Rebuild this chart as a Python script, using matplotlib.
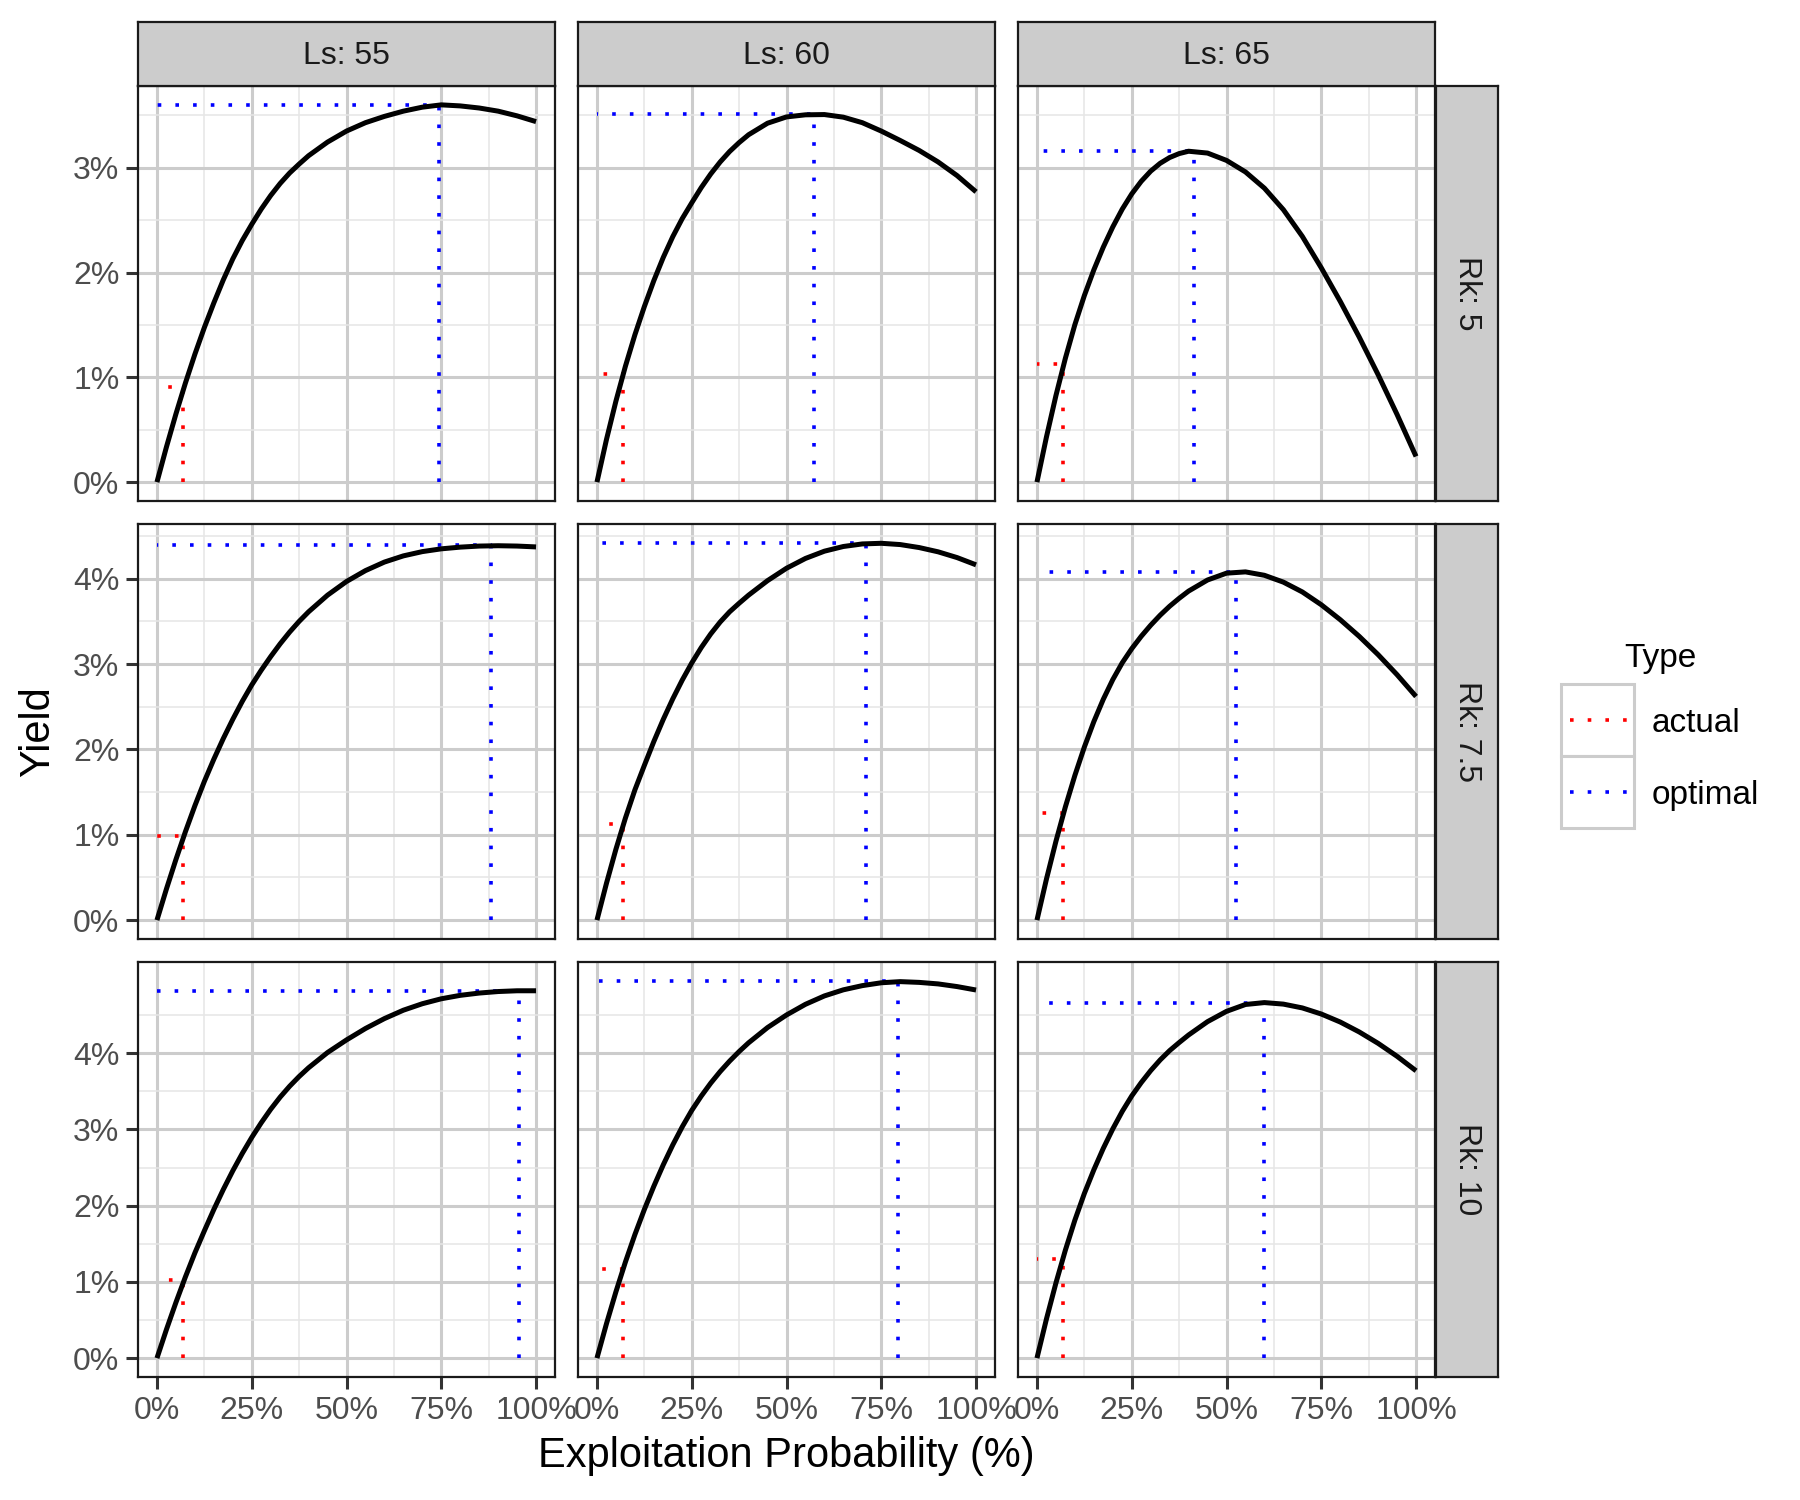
import matplotlib.pyplot as plt
from matplotlib.ticker import PercentFormatter
from matplotlib.patches import Rectangle
from matplotlib.lines import Line2D

plt.rcParams['font.family'] = ['Liberation Sans', 'DejaVu Sans']

# Facet levels
ls_values = ['55', '60', '65']
rk_values = ['5', '7.5', '10']

# Exploitation probability (%) where each curve was read
prob = [0, 2.5, 5, 7.5, 10, 12.5, 15, 17.5, 20, 22.5, 25, 27.5, 30, 32.5, 35, 37.5,
        40, 45, 50, 55, 60, 65, 70, 75, 80, 85, 90, 95, 100]

# Yield (%) per panel, rows Rk 5 / 7.5 / 10, columns Ls 55 / 60 / 65
r5_l55 = [0, .335, .65, .945, 1.22, 1.475, 1.71, 1.93, 2.13, 2.305, 2.46, 2.605, 2.735, 2.85, 2.95, 3.035,
          3.115, 3.245, 3.35, 3.43, 3.49, 3.54, 3.578, 3.60, 3.59, 3.57, 3.54, 3.495, 3.44]
r5_l60 = [0, .405, .7725, 1.105, 1.405, 1.675, 1.9225, 2.145, 2.3425, 2.515, 2.665, 2.81, 2.94, 3.055, 3.155, 3.24,
          3.315, 3.425, 3.485, 3.505, 3.5075, 3.4825, 3.43, 3.35, 3.26, 3.165, 3.055, 2.925, 2.77]
r5_l65 = [0, .43, .825, 1.1825, 1.5025, 1.78, 2.025, 2.2425, 2.435, 2.605, 2.75, 2.87, 2.9675, 3.0425, 3.0975, 3.135,
          3.1575, 3.14, 3.07, 2.96, 2.805, 2.60, 2.345, 2.045, 1.725, 1.385, 1.025, .645, .245]
r75_l55 = [0, .365, .71, 1.035, 1.34, 1.625, 1.885, 2.1275, 2.3525, 2.5625, 2.755, 2.9275, 3.0875, 3.2375, 3.375, 3.5,
           3.6125, 3.8075, 3.9675, 4.095, 4.195, 4.2675, 4.3175, 4.35, 4.37, 4.3825, 4.3865, 4.3825, 4.3725]
r75_l60 = [0, .43, .83, 1.195, 1.525, 1.8125, 2.0925, 2.3525, 2.5925, 2.8125, 3.0125, 3.1925, 3.3525, 3.4925, 3.6125, 3.7125,
           3.8075, 3.9775, 4.1225, 4.2375, 4.3225, 4.3775, 4.4075, 4.415, 4.40, 4.365, 4.315, 4.2475, 4.1625]
r75_l65 = [0, .48, .9225, 1.3275, 1.695, 2.0275, 2.325, 2.5875, 2.8175, 3.015, 3.18, 3.325, 3.455, 3.5725, 3.6775, 3.77,
           3.855, 3.985, 4.065, 4.08, 4.04, 3.96, 3.845, 3.695, 3.52, 3.325, 3.11, 2.875, 2.62]
r10_l55 = [0, .375, .73, 1.065, 1.38, 1.67, 1.95, 2.2125, 2.4575, 2.685, 2.895, 3.0875, 3.265, 3.425, 3.5675, 3.695,
           3.81, 4.01, 4.175, 4.325, 4.455, 4.565, 4.65, 4.715, 4.76, 4.79, 4.81, 4.82, 4.82]
r10_l60 = [0, .45, .87, 1.26, 1.62, 1.95, 2.255, 2.5375, 2.7975, 3.035, 3.25, 3.4375, 3.6075, 3.76, 3.8975, 4.0225,
           4.1375, 4.3375, 4.5025, 4.6425, 4.7525, 4.8325, 4.8875, 4.925, 4.94, 4.93, 4.91, 4.875, 4.83]
r10_l65 = [0, .5125, .985, 1.4175, 1.81, 2.16, 2.47, 2.7525, 3.0075, 3.2375, 3.44, 3.615, 3.7725, 3.9125, 4.035, 4.14,
           4.24, 4.415, 4.55, 4.64, 4.665, 4.645, 4.595, 4.515, 4.41, 4.28, 4.13, 3.96, 3.77]

# Actual and optimal points (rows = Rk, columns = Ls)
actual_x = [[7, 7, 7], [7, 7, 7], [7, 7, 7]]
actual_y = [[0.91, 1.03, 1.13], [0.99, 1.13, 1.25], [1.02, 1.17, 1.30]]
optimal_x = [[74.3, 57.2, 41.3], [88.1, 70.9, 52.4], [95.5, 79.5, 59.9]]
optimal_y = [[3.60, 3.51, 3.16], [4.39, 4.42, 4.08], [4.82, 4.95, 4.66]]

curves = [[r5_l55, r5_l60, r5_l65],
          [r75_l55, r75_l60, r75_l65],
          [r10_l55, r10_l60, r10_l65]]

# Layout in pixels (figure is 1800 x 1500 at 200 dpi)
W, H = 1800, 1500
col_left = [138, 578, 1018]
row_top = [86, 524, 962]
pw, ph = 417, 415
strip_h, strip_w = 64, 62

dot_lw = 1.3
dots = (0, (1, 3.9))
tick_size = 11.5

fig = plt.figure(figsize=(9, 7.5), dpi=200)

for r in range(3):
    row_max = max(max(max(cv) for cv in curves[r]), max(optimal_y[r]))
    for c in range(3):
        ax = fig.add_axes([col_left[c] / W, 1 - (row_top[r] + ph) / H, pw / W, ph / H])
        ax.plot([actual_x[r][c], actual_x[r][c], 0], [0, actual_y[r][c], actual_y[r][c]],
                color='red', lw=dot_lw, ls=dots, dash_capstyle='butt', zorder=2)
        ax.plot([optimal_x[r][c], optimal_x[r][c], 0], [0, optimal_y[r][c], optimal_y[r][c]],
                color='blue', lw=dot_lw, ls=dots, dash_capstyle='butt', zorder=2)
        ax.plot(prob, curves[r][c], color='black', lw=1.8, zorder=3,
                solid_joinstyle='round', solid_capstyle='butt')

        ax.set_xlim(-5, 105)
        ax.set_ylim(-0.05 * row_max, 1.05 * row_max)
        ax.set_xticks([0, 25, 50, 75, 100])
        ax.set_xticks([12.5, 37.5, 62.5, 87.5], minor=True)
        yt = list(range(0, int(row_max) + 1))
        ax.set_yticks(yt)
        ax.set_yticks([v + 0.5 for v in yt if v + 0.5 < 1.05 * row_max], minor=True)
        ax.xaxis.set_major_formatter(PercentFormatter(xmax=100, decimals=0))
        ax.yaxis.set_major_formatter(PercentFormatter(xmax=100, decimals=0))
        ax.grid(which='major', color='#CCCCCC', lw=1.1)
        ax.grid(which='minor', color='#E6E6E6', lw=0.55)
        ax.set_axisbelow(True)
        ax.tick_params(which='major', length=4.2, width=1.1, color='#333333',
                       labelsize=tick_size, labelcolor='#4D4D4D', pad=2.5)
        ax.tick_params(which='minor', length=0)
        if c > 0:
            ax.tick_params(left=False, labelleft=False)
        if r < 2:
            ax.tick_params(bottom=False, labelbottom=False)
        for sp in ax.spines.values():
            sp.set_color('#1A1A1A')
            sp.set_linewidth(0.8)
            sp.set_zorder(5)

# Column strips
for c in range(3):
    sax = fig.add_axes([col_left[c] / W, 1 - row_top[0] / H, pw / W, strip_h / H])
    sax.set_facecolor('#CCCCCC')
    sax.set_xticks([])
    sax.set_yticks([])
    for sp in sax.spines.values():
        sp.set_color('#1A1A1A')
        sp.set_linewidth(0.8)
    sax.text(0.5, 0.47, f'Ls: {ls_values[c]}', ha='center', va='center',
             fontsize=tick_size, color='#1A1A1A', transform=sax.transAxes)

# Row strips
strip_left = col_left[2] + pw + 1
for r in range(3):
    sax = fig.add_axes([strip_left / W, 1 - (row_top[r] + ph) / H, strip_w / W, ph / H])
    sax.set_facecolor('#CCCCCC')
    sax.set_xticks([])
    sax.set_yticks([])
    for sp in sax.spines.values():
        sp.set_color('#1A1A1A')
        sp.set_linewidth(0.8)
    sax.text(0.5, 0.5, f'Rk: {rk_values[r]}', ha='center', va='center', rotation=-90,
             fontsize=tick_size, color='#1A1A1A', transform=sax.transAxes)

# Axis titles
fig.text(38 / W, 1 - 731.5 / H, 'Yield', rotation=90, ha='center', va='center', fontsize=15)
fig.text(786.5 / W, 1 - 1456 / H, 'Exploitation Probability (%)', ha='center', va='center', fontsize=15)

# Legend
fig.text(1660 / W, 1 - 658 / H, 'Type', ha='center', va='center', fontsize=12)
for i, (lab, col) in enumerate([('actual', 'red'), ('optimal', 'blue')]):
    top = 684 + i * 72
    fig.add_artist(Rectangle((1561 / W, 1 - (top + 72) / H), 73 / W, 72 / H,
                             transform=fig.transFigure, facecolor='white',
                             edgecolor='#CCCCCC', lw=1.1))
    yc = 1 - (top + 36) / H
    fig.add_artist(Line2D([1570 / W, 1629 / W], [yc, yc], transform=fig.transFigure,
                          color=col, lw=dot_lw, ls=dots, dash_capstyle='butt'))
    fig.text(1652 / W, 1 - (top + 40) / H, lab, ha='left', va='center', fontsize=12)

fig.savefig('out.png', dpi=200)
